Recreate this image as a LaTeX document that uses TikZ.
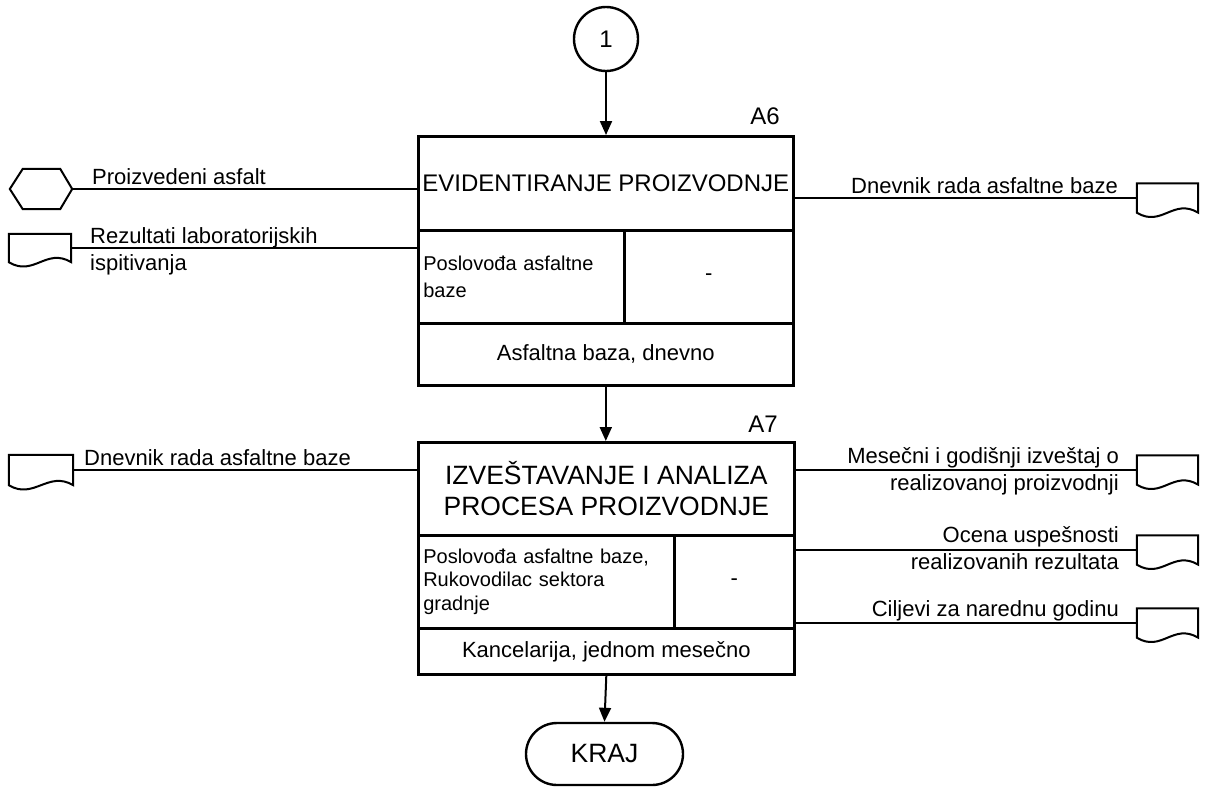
\documentclass[tikz,border=0pt]{standalone}
\usepackage{fontspec}
\setmainfont{Liberation Sans}
\usetikzlibrary{arrows.meta,calc}
\newcommand\docpath[1]{\draw[shp] (#1.south west) -- (#1.north west) -- (#1.north east) -- (#1.south east) .. controls ($(#1.south east)+(-25,-15)$) and ($(#1.south west)+(25,15)$) .. (#1.south west) -- cycle;}
\begin{document}
\begin{tikzpicture}[x=1pt,y=-1pt,
  conn/.style={line width=2pt},
  arr/.style={line width=2pt,-{Triangle[length=14pt,width=12pt]}},
  shp/.style={line width=2pt},
  cellbox/.style={draw,line width=2.6pt,inner sep=0pt,anchor=north west},
  lbl/.style={font=\fontsize{22}{27}\selectfont,inner sep=0pt},
  ghost/.style={draw=none,inner sep=0pt}
]
\useasboundingbox (0,0) rectangle (1206,787);

% start connector
\node[draw,circle,line width=2.4pt,minimum size=64pt,inner sep=0pt,font=\fontsize{24}{28}\selectfont] (c1) at (606,39) {1};

% A6 box
\node[cellbox,minimum width=375pt,minimum height=94pt,font=\fontsize{24}{28}\selectfont] (A6t) at (417,135) {EVIDENTIRANJE PROIZVODNJE};
\node[cellbox,text width=196pt,inner xsep=5pt,minimum height=93pt,align=left,font=\fontsize{20}{27}\selectfont] (A6l) at (417,229) {Poslovođa asfaltne\\baze};
\node[cellbox,minimum width=169pt,minimum height=93pt,font=\fontsize{22}{27}\selectfont] (A6r) at (623,229) {-};
\node[cellbox,minimum width=375pt,minimum height=62pt,font=\fontsize{22}{27}\selectfont] (A6b) at (417,322) {Asfaltna baza, dnevno};
\node[lbl,anchor=base east,font=\fontsize{24}{28}\selectfont] (A6n) at (780,124) {A6};

% A7 box
\node[cellbox,minimum width=376pt,minimum height=93pt,align=center,font=\fontsize{26.5}{31}\selectfont] (A7t) at (417,441) {IZVEŠTAVANJE I ANALIZA\\PROCESA PROIZVODNJE};
\node[cellbox,text width=246pt,inner xsep=5pt,minimum height=93pt,align=left,font=\fontsize{20}{23.5}\selectfont] (A7l) at (417,534) {Poslovođa asfaltne baze,\\Rukovodilac sektora\\gradnje};
\node[cellbox,minimum width=120pt,minimum height=93pt,font=\fontsize{22}{27}\selectfont] (A7r) at (673,534) {-};
\node[cellbox,minimum width=376pt,minimum height=46pt,font=\fontsize{22}{27}\selectfont] (A7b) at (417,627) {Kancelarija, jednom mesečno};
\node[lbl,anchor=base east,font=\fontsize{24}{28}\selectfont] (A7n) at (778,432) {A7};

% end terminator
\node[draw,line width=2.4pt,rounded corners=31pt,minimum width=157pt,minimum height=62pt,font=\fontsize{26.5}{31}\selectfont] (krj) at (604.5,754) {KRAJ};

% flow arrows
\draw[arr] (c1.south) -- (c1.south |- A6t.north);
\draw[arr] (A6b.south) -- (A6b.south |- A7t.north);
\draw[arr] (A7b.south) -- (krj.north);

% left inputs
\node[ghost,minimum width=62pt,minimum height=40pt] (hex) at (41,189) {};
\draw[shp] (hex.west) -- ($(hex.north west)+(13,0)$) -- ($(hex.north east)+(-12,0)$) -- (hex.east) -- ($(hex.south east)+(-12,0)$) -- ($(hex.south west)+(13,0)$) -- cycle;
\node[ghost,minimum width=62pt,minimum height=28pt] (dL1) at (40,248) {};
\docpath{dL1}
\node[ghost,minimum width=64pt,minimum height=30pt] (dL2) at (41,470) {};
\docpath{dL2}

\draw[conn] (hex.east) -- (hex.east -| A6t.west);
\draw[conn] (dL1.east) -- (dL1.east -| A6l.west);
\draw[conn] (dL2.east) -- (dL2.east -| A7t.west);

\node[lbl,anchor=base west] (t1) at (92,184) {Proizvedeni asfalt};
\node[lbl,anchor=base west,align=left] (t2) at (90,270) {Rezultati laboratorijskih\\ispitivanja};
\node[lbl,anchor=base west] (t3) at (84,465) {Dnevnik rada asfaltne baze};

% right outputs
\node[ghost,minimum width=61pt,minimum height=29pt] (dR1) at (1167.5,198) {};
\docpath{dR1}
\node[ghost,minimum width=61pt,minimum height=29pt] (dR2) at (1167.5,470) {};
\docpath{dR2}
\node[ghost,minimum width=61pt,minimum height=29pt] (dR3) at (1167.5,550) {};
\docpath{dR3}
\node[ghost,minimum width=61pt,minimum height=29pt] (dR4) at (1167.5,623) {};
\docpath{dR4}

\draw[conn] (A6t.east |- dR1.west) -- (dR1.west);
\draw[conn] (A7t.east |- dR2.west) -- (dR2.west);
\draw[conn] (A7r.east |- dR3.west) -- (dR3.west);
\draw[conn] (A7r.east |- dR4.west) -- (dR4.west);

\node[lbl,anchor=base east] (t4) at (1118,193) {Dnevnik rada asfaltne baze};
\node[lbl,anchor=base east,align=right] (t5) at (1119,490) {Mesečni i godišnji izveštaj o\\realizovanoj proizvodnji};
\node[lbl,anchor=base east,align=right] (t6) at (1119,569) {Ocena uspešnosti\\realizovanih rezultata};
\node[lbl,anchor=base east] (t7) at (1119,616) {Ciljevi za narednu godinu};
\end{tikzpicture}
\end{document}
